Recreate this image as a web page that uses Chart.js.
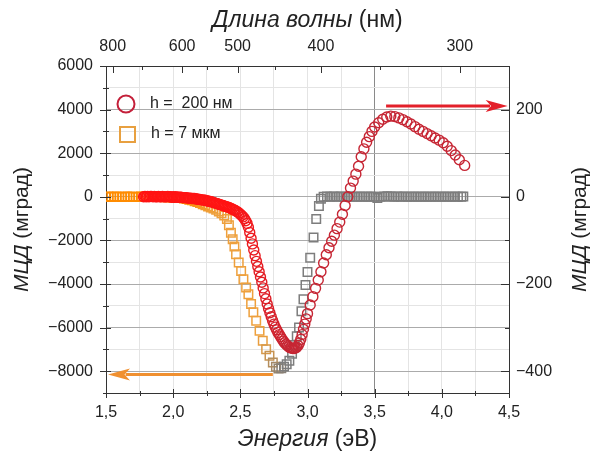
<!DOCTYPE html>
<html>
<head>
<meta charset="utf-8">
<script src="https://cdn.jsdelivr.net/npm/chart.js@4.4.0/dist/chart.umd.min.js"></script>
<style>
  html, body { margin: 0; padding: 0; background: #fff; }
  #wrap { width: 593px; height: 459px; }
</style>
</head>
<body>
<div id="wrap"><canvas id="grafico"></canvas></div>
<script>
// h = 200 nm  (eixo direito, mgrad)
const energia200 = [
  1.78, 1.79, 1.80, 1.81, 1.82, 1.83, 1.84, 1.85, 1.86, 1.87, 1.88, 1.89, 1.90, 1.91, 1.92, 1.93, 1.94, 1.95, 1.96, 1.97, 1.98, 1.99, 2.00,
  2.01, 2.02, 2.03, 2.04, 2.05, 2.06, 2.07, 2.08, 2.09, 2.10, 2.11, 2.12, 2.13, 2.14, 2.15, 2.16, 2.17, 2.18, 2.19, 2.20,
  2.21, 2.22, 2.23, 2.24, 2.25, 2.26, 2.27, 2.28, 2.29, 2.30, 2.31, 2.32, 2.33, 2.34, 2.35, 2.36, 2.37, 2.38, 2.39, 2.40,
  2.41, 2.42, 2.43, 2.44, 2.45, 2.46, 2.47, 2.48, 2.49, 2.50,
  2.51, 2.52, 2.53, 2.54, 2.55, 2.56, 2.57, 2.58, 2.59, 2.60,
  2.61, 2.62, 2.63, 2.64, 2.65, 2.66, 2.67, 2.68, 2.69, 2.70,
  2.71, 2.72, 2.73, 2.74, 2.75, 2.76, 2.77, 2.78, 2.79, 2.80,
  2.81, 2.82, 2.83, 2.84, 2.85, 2.86, 2.87, 2.88, 2.89, 2.90,
  2.91, 2.92, 2.93, 2.94, 2.95, 2.96, 2.97, 2.98, 2.99, 3.00,
  3.02, 3.04, 3.06, 3.08, 3.10, 3.12, 3.14, 3.16, 3.18, 3.20, 3.22, 3.24, 3.26, 3.28, 3.30, 3.32, 3.34, 3.36, 3.38, 3.40, 3.42, 3.44, 3.46, 3.48, 3.50,
  3.53, 3.56, 3.59, 3.62, 3.65, 3.68, 3.71, 3.74, 3.77, 3.80, 3.83, 3.86, 3.89, 3.92, 3.95, 3.98, 4.01, 4.04, 4.07, 4.10, 4.13, 4.17
];
const mcd200 = [
  0, 1, 0, 1, 0, 1, 1, 0, 1, 0, 0, 1, 0, 0, 1, 0, 0, 0, 1, 0, 0, -1, 0,
  -1, 0, -1, -1, -1, -1, -2, -2, -2, -2, -3, -3, -3, -4, -4, -4, -5, -5, -6, -6,
  -7, -7, -8, -8, -9, -10, -10, -11, -12, -13, -14, -15, -16, -17, -18, -19, -20, -21, -22, -23,
  -24, -25, -27, -28, -30, -31, -33, -35, -37, -40,
  -43, -46, -50, -55, -61, -70, -82, -95, -108, -122,
  -135, -148, -160, -172, -184, -196, -209, -222, -234, -246,
  -256, -266, -275, -284, -292, -299, -305, -311, -316, -321,
  -326, -331, -335, -338, -341, -344, -346, -347, -348, -348,
  -347, -345, -341, -335, -327, -316, -304, -292, -280, -268,
  -248, -229, -210, -191, -172, -152, -133, -117, -102, -88, -73, -58, -40, -20, 0, 20, 36, 52, 70, 92, 110, 125, 138, 150, 160,
  170, 178, 183, 185, 184, 181, 177, 172, 167, 161, 155, 150, 145, 140, 135, 130, 124, 116, 106, 96, 85, 72
];

// h = 7 mkm  (eixo esquerdo, mgrad)
const energia7 = [1.50, 1.52, 1.54, 1.56, 1.58, 1.60, 1.62, 1.64, 1.66, 1.68, 1.70, 1.72, 1.74, 1.76, 1.78, 1.80, 1.82, 1.84, 1.86, 1.88, 1.90, 1.92, 1.94, 1.96, 1.98, 2.00, 2.02, 2.04, 2.06, 2.08, 2.10, 2.12, 2.14, 2.16, 2.18, 2.20, 2.22, 2.24, 2.26, 2.28, 2.30, 2.32, 2.34, 2.36, 2.38, 2.40, 2.415, 2.43, 2.443, 2.456, 2.468, 2.488, 2.506, 2.523, 2.543, 2.56, 2.58, 2.597, 2.618, 2.643, 2.667, 2.692, 2.717, 2.742, 2.765, 2.785, 2.805, 2.825, 2.845, 2.865, 2.885, 2.905, 2.92, 2.937, 2.955, 2.97, 2.985, 3.00, 3.02, 3.045, 3.065, 3.085, 3.10, 3.12, 3.145, 3.17, 3.195, 3.22, 3.245, 3.27, 3.295, 3.32, 3.345, 3.37, 3.395, 3.42, 3.445, 3.47, 3.495, 3.52, 3.545, 3.57, 3.595, 3.62, 3.645, 3.67, 3.695, 3.72, 3.745, 3.77, 3.795, 3.82, 3.845, 3.87, 3.895, 3.92, 3.945, 3.97, 3.995, 4.02, 4.045, 4.07, 4.095, 4.12, 4.145, 4.16];
const mcd7 = [0, 10, -10, 0, 10, 0, -10, 0, 10, 0, 0, -10, 0, 10, 0, -10, 0, 0, -10, 0, -10, -10, -20, -20, -20, -30, -40, -50, -60, -80, -100, -130, -160, -200, -240, -290, -340, -390, -440, -490, -540, -600, -670, -750, -860, -1020, -1300, -1650, -1950, -2280, -2630, -3010, -3400, -3780, -4160, -4470, -4920, -5300, -5690, -6150, -6600, -6990, -7290, -7600, -7800, -7880, -7860, -7790, -7680, -7520, -7200, -6800, -6400, -6000, -5250, -4700, -4050, -3450, -2800, -1870, -1020, -420, -90, 0, 10, 0, 10, 0, 10, 0, 0, 10, 0, 0, 10, 0, 0, 10, 0, -60, 0, 10, 20, 10, 0, 10, 0, 10, 0, 0, 10, 0, 0, 10, 0, 0, 10, 0, 0, 10, 0, 0, 10, 0, 0, 10];

const nomes = ['h =  200 нм', 'h = 7 мкм'];

// eixos
const ticksEnergia = [1.5, 1.75, 2.0, 2.25, 2.5, 2.75, 3.0, 3.25, 3.5, 3.75, 4.0, 4.25, 4.5];
const ticksEsq = [-9000, -8000, -7000, -6000, -5000, -4000, -3000, -2000, -1000, 0, 1000, 2000, 3000, 4000, 5000, 6000];
const ticksDir = [-400, -300, -200, -100, 0, 100, 200, 300];
const comprimentos = [800, 700, 600, 550, 500, 450, 400, 350, 300];
const comprimentosRotulo = [800, 600, 500, 400, 300];

// setas: [energia inicio, energia fim, valor]
const setaDir = [3.585, 4.49, 208];
const setaEsq = [2.742, 1.515, -8150];

const fonte = '"Liberation Sans", Arial, sans-serif';
Chart.defaults.font.family = fonte;
Chart.defaults.color = '#222';

function misturar(c1, c2, t) {
  t = Math.max(0, Math.min(1, t));
  const r = Math.round(c1[0] + (c2[0] - c1[0]) * t);
  const g = Math.round(c1[1] + (c2[1] - c1[1]) * t);
  const b = Math.round(c1[2] + (c2[2] - c1[2]) * t);
  return `rgb(${r},${g},${b})`;
}

function corCirculo(ctx) {
  const e = ctx.raw ? ctx.raw.x : 2;
  return misturar([255, 20, 20], [198, 38, 52], (e - 2.45) / 0.4);
}

function corQuadrado(ctx) {
  const e = ctx.raw ? ctx.raw.x : 2;
  if (e < 2.3) return misturar([255, 140, 0], [238, 160, 60], (e - 2.1) / 0.2);
  return misturar([238, 160, 60], [125, 125, 125], (e - 2.66) / 0.16);
}

function menos(v) {
  return v < 0 ? '\u2212' + Math.abs(v) : String(v);
}

const pontos200 = energia200.map((e, i) => ({ x: e, y: mcd200[i] }));
const pontos7 = energia7.map((e, i) => ({ x: e, y: mcd7[i] }));

function textoMisto(ctx, partes, x, y, rot, tam) {
  ctx.save();
  ctx.translate(x, y);
  ctx.rotate(rot);
  let total = 0;
  partes.forEach(p => {
    ctx.font = (p.it ? 'italic ' : '') + tam + 'px ' + fonte;
    p.w = ctx.measureText(p.t).width;
    total += p.w;
  });
  let cx = -total / 2;
  ctx.textBaseline = 'middle';
  ctx.textAlign = 'left';
  ctx.fillStyle = '#222';
  partes.forEach(p => {
    ctx.font = (p.it ? 'italic ' : '') + tam + 'px ' + fonte;
    ctx.fillText(p.t, cx, 0);
    cx += p.w;
  });
  ctx.restore();
}

function desenharSeta(ctx, x1, x2, y, cor) {
  const dir = x2 > x1 ? 1 : -1;
  const cab = 22;
  ctx.save();
  ctx.strokeStyle = cor;
  ctx.fillStyle = cor;
  ctx.lineWidth = 3;
  ctx.beginPath();
  ctx.moveTo(x1, y);
  ctx.lineTo(x2 - dir * cab * 0.8, y);
  ctx.stroke();
  ctx.beginPath();
  ctx.moveTo(x2, y);
  ctx.lineTo(x2 - dir * cab, y - 6);
  ctx.lineTo(x2 - dir * cab * 0.75, y);
  ctx.lineTo(x2 - dir * cab, y + 6);
  ctx.closePath();
  ctx.fill();
  ctx.restore();
}

const extras = {
  id: 'extras',
  afterDatasetsDraw(chart) {
    const ctx = chart.ctx;
    const a = chart.chartArea;
    const sx = chart.scales.x, sy = chart.scales.yEsq, sd = chart.scales.yDir;

    // marcas dos eixos
    ctx.save();
    ctx.strokeStyle = '#333';
    ctx.lineWidth = 1;
    ctx.beginPath();
    ticksEnergia.forEach(v => {
      const px = Math.round(sx.getPixelForValue(v)) + 0.5;
      const maior = Math.abs(v * 2 - Math.round(v * 2)) < 1e-6;
      ctx.moveTo(px, a.bottom - (maior ? 4 : 2));
      ctx.lineTo(px, a.bottom + (maior ? 5 : 3));
    });
    comprimentos.forEach(l => {
      const px = Math.round(sx.getPixelForValue(1240 / l)) + 0.5;
      const maior = comprimentosRotulo.includes(l);
      ctx.moveTo(px, a.top);
      ctx.lineTo(px, a.top + (maior ? 7 : 4));
    });
    ticksEsq.forEach(v => {
      const py = Math.round(sy.getPixelForValue(v)) + 0.5;
      const maior = v % 2000 === 0;
      ctx.moveTo(a.left - (maior ? 6 : 3), py);
      ctx.lineTo(a.left + (maior ? 5 : 3), py);
    });
    ticksDir.forEach(v => {
      const py = Math.round(sd.getPixelForValue(v)) + 0.5;
      const maior = v % 200 === 0;
      ctx.moveTo(a.right - (maior ? 8 : 4), py);
      ctx.lineTo(a.right, py);
    });
    ctx.stroke();
    ctx.restore();

    // setas
    desenharSeta(ctx, sx.getPixelForValue(setaDir[0]), sx.getPixelForValue(setaDir[1]),
      sd.getPixelForValue(setaDir[2]), '#e3202a');
    desenharSeta(ctx, sx.getPixelForValue(setaEsq[0]), sx.getPixelForValue(setaEsq[1]),
      sy.getPixelForValue(setaEsq[2]), '#f09030');

    // legenda
    ctx.save();
    ctx.lineWidth = 2;
    ctx.strokeStyle = '#c4203a';
    ctx.beginPath();
    ctx.arc(a.left + 20, a.top + 38, 8.5, 0, Math.PI * 2);
    ctx.stroke();
    ctx.strokeStyle = '#e8a040';
    ctx.strokeRect(a.left + 14, a.top + 61, 15, 15);
    ctx.fillStyle = '#222';
    ctx.font = '16px ' + fonte;
    ctx.textBaseline = 'middle';
    ctx.fillText(nomes[0], a.left + 44, a.top + 38);
    ctx.fillText(nomes[1], a.left + 45, a.top + 68);
    ctx.restore();
  },
  afterDraw(chart) {
    const ctx = chart.ctx;
    const a = chart.chartArea;
    const cx = (a.left + a.right) / 2;
    const cy = (a.top + a.bottom) / 2;
    textoMisto(ctx, [{ t: 'Энергия', it: true }, { t: ' (эВ)', it: false }], cx, 440, 0, 23);
    textoMisto(ctx, [{ t: 'Длина волны', it: true }, { t: ' (нм)', it: false }], cx, 21, 0, 23);
    textoMisto(ctx, [{ t: 'МЦД', it: true }, { t: ' (мград)', it: false }], 22, cy, -Math.PI / 2, 21);
    textoMisto(ctx, [{ t: 'МЦД', it: true }, { t: ' (мград)', it: false }], 580, cy, -Math.PI / 2, 21);
  }
};

new Chart(document.getElementById('grafico'), {
  type: 'scatter',
  data: {
    datasets: [
      {
        label: nomes[0],
        data: pontos200,
        yAxisID: 'yDir',
        pointStyle: 'circle',
        pointRadius: 5,
        pointBorderWidth: 1.4,
        pointBackgroundColor: 'rgba(0,0,0,0)',
        pointBorderColor: corCirculo
      },
      {
        label: nomes[1],
        data: pontos7,
        yAxisID: 'yEsq',
        pointStyle: 'rect',
        pointRadius: 6,
        pointBorderWidth: 1.5,
        pointBackgroundColor: 'rgba(0,0,0,0)',
        pointBorderColor: corQuadrado
      }
    ]
  },
  options: {
    responsive: true,
    maintainAspectRatio: false,
    animation: false,
    events: [],
    layout: { padding: 0 },
    plugins: {
      legend: { display: false },
      tooltip: { enabled: false }
    },
    scales: {
      x: {
        type: 'linear',
        position: 'bottom',
        min: 1.5,
        max: 4.5,
        afterBuildTicks: s => { s.ticks = ticksEnergia.map(v => ({ value: v })); },
        afterFit: s => { s.height = 66; },
        border: { color: '#333' },
        grid: {
          drawTicks: false,
          color: c => (c.tick && c.tick.value === 3.5) ? '#8a8a8a' : '#e4e4e4'
        },
        ticks: {
          padding: 10,
          autoSkip: false,
          maxRotation: 0,
          font: { size: 16 },
          callback: v => (Math.abs(v * 2 - Math.round(v * 2)) < 1e-6) ? v.toFixed(1).replace('.', ',') : ''
        }
      },
      xTop: {
        type: 'linear',
        position: 'top',
        min: 1.5,
        max: 4.5,
        afterBuildTicks: s => { s.ticks = comprimentos.map(l => ({ value: 1240 / l })); },
        afterFit: s => { s.height = 66; },
        border: { color: '#333' },
        grid: { drawOnChartArea: false, drawTicks: false },
        ticks: {
          padding: 10,
          autoSkip: false,
          maxRotation: 0,
          font: { size: 16 },
          callback: v => {
            const l = Math.round(1240 / v);
            return comprimentosRotulo.includes(l) ? String(l) : '';
          }
        }
      },
      yEsq: {
        type: 'linear',
        position: 'left',
        min: -9000,
        max: 6000,
        afterBuildTicks: s => { s.ticks = ticksEsq.map(v => ({ value: v })); },
        afterFit: s => { s.width = 106; },
        border: { color: '#333' },
        grid: {
          drawTicks: false,
          color: c => (c.tick && c.tick.value % 2000 === 0) ? '#ababab' : '#e4e4e4'
        },
        ticks: {
          padding: 13,
          autoSkip: false,
          font: { size: 16 },
          callback: v => (v % 2000 === 0 && v >= -8000) ? menos(v) : ''
        }
      },
      yDir: {
        type: 'linear',
        position: 'right',
        min: -450,
        max: 300,
        afterBuildTicks: s => { s.ticks = ticksDir.map(v => ({ value: v })); },
        afterFit: s => { s.width = 84; },
        border: { color: '#333' },
        grid: { drawOnChartArea: false, drawTicks: false },
        ticks: {
          padding: 7,
          autoSkip: false,
          font: { size: 16 },
          callback: v => (v % 200 === 0) ? menos(v) : ''
        }
      }
    }
  },
  plugins: [extras]
});
</script>
</body>
</html>
